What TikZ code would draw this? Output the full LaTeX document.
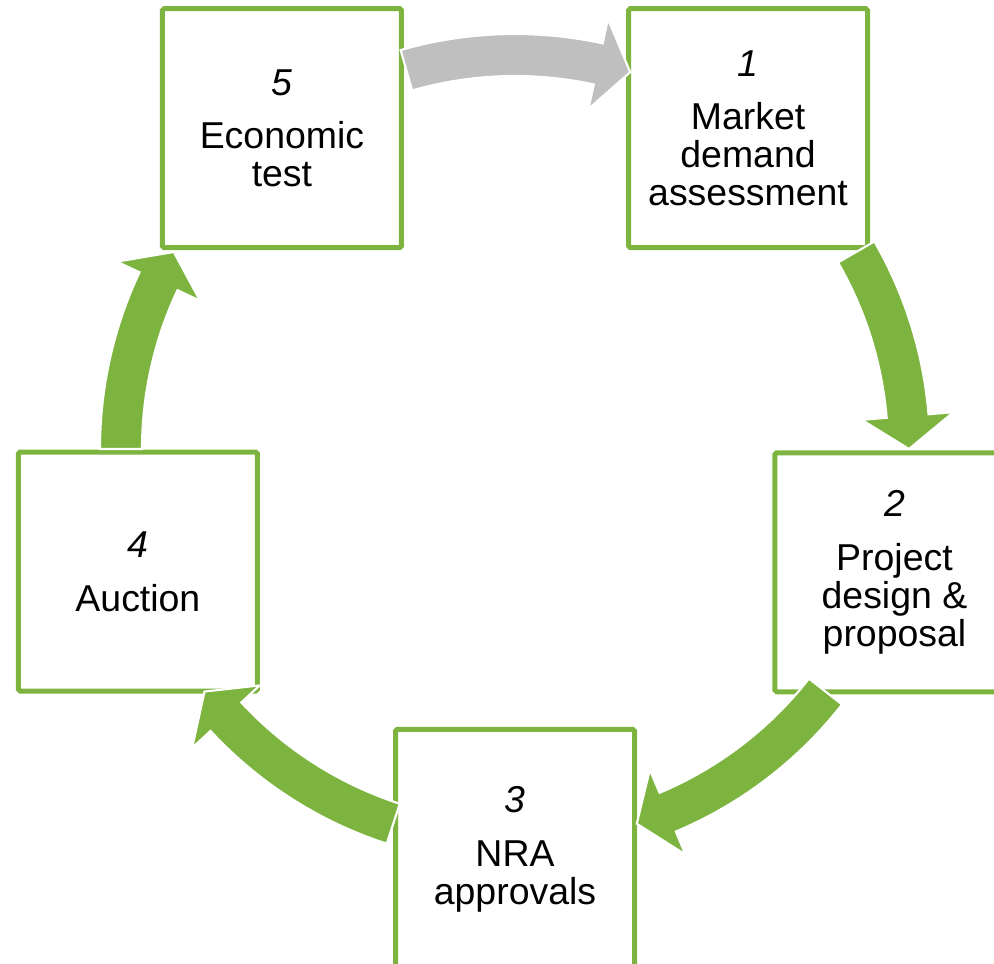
\documentclass[tikz,border=0pt]{standalone}
\usepackage{fontspec}
\setmainfont{Liberation Sans}
\usepackage{tikz}
\usepackage{xcolor}
\usetikzlibrary{positioning, calc}
\definecolor{stagegreen}{RGB}{125,180,64}
\definecolor{arrowgray}{RGB}{191,191,191}

\begin{document}
\begin{tikzpicture}[
    stage/.style={draw=stagegreen, fill=white, line width=0.1cm, rounded corners=1pt,
        minimum width=4.78cm, minimum height=4.78cm, align=center,
        font=\fontsize{21.3}{21.6}\selectfont}
]
\useasboundingbox (0,0) rectangle (19.88,19.28);
\clip (0,0) rectangle (19.88,19.28);
\coordinate (cyc) at (10.3,10.3);

% Stages around the cycle
\node[stage] (s5) at ($(cyc)+(126:7.93)$) {\textit{5}\\[9pt]Economic\\test};
\node[stage] (s1) at ($(cyc)+(54:7.93)$) {\textit{1}\\[9pt]Market\\demand\\assessment};
\node[stage] (s2) at ($(cyc)+(-18:7.98)$) {\textit{2}\\[9pt]Project\\design \&\\proposal};
\node[stage] (s3) at ($(cyc)+(-90:8.0)$) {\textit{3}\\[9pt]NRA\\approvals};
\node[stage] (s4) at ($(cyc)+(198:7.93)$) {\textit{4}\\[9pt]Auction};

% Curved block arrows
\foreach \s/\t/\c in {106/73/arrowgray, 30/0/stagegreen, -38/-72/stagegreen, -108/-142/stagegreen, 180/150/stagegreen} {
    \pgfmathsetmacro{\b}{\t+4.8}
    \filldraw[fill=\c, draw=white, line width=1.2pt, line join=miter]
        ($(cyc)+(\s:8.3)$) arc[start angle=\s, end angle=\b, radius=8.3cm]
        -- ($(cyc)+(\b:8.8)$) -- ($(cyc)+(\t:7.88)$) -- ($(cyc)+(\b:6.96)$)
        -- ($(cyc)+(\b:7.46)$) arc[start angle=\b, end angle=\s, radius=7.46cm]
        -- cycle;
}
\end{tikzpicture}
\end{document}
